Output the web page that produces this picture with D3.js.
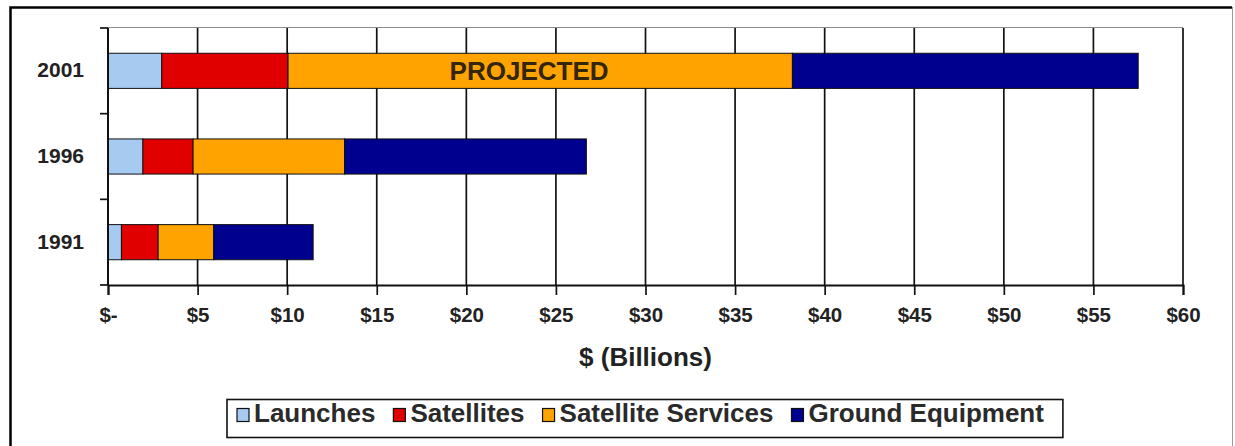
<!DOCTYPE html>
<html>
<head>
<meta charset="utf-8">
<script src="https://cdn.jsdelivr.net/npm/d3@7"></script>
<style>
  html, body { margin: 0; padding: 0; background: #fff; }
  svg { display: block; font-family: "Liberation Sans", Arial, sans-serif; }
</style>
</head>
<body>
<svg id="chart" width="1235" height="446"></svg>
<script>
// Space industry revenues by segment, $ billions
const years = ["2001", "1996", "1991"];
const seriesNames = ["Launches", "Satellites", "Satellite Services", "Ground Equipment"];
const launches = [3.0, 1.95, 0.75];
const satellites = [7.05, 2.8, 2.05];
const satelliteServices = [28.15, 8.45, 3.1];
const groundEquipment = [19.3, 13.5, 5.55];
const xTicks = [0, 5, 10, 15, 20, 25, 30, 35, 40, 45, 50, 55, 60];
const colors = ["#a6caf0", "#e00000", "#ffa300", "#00008f"];
const projectedNote = { year: "2001", at: 23.5, text: "PROJECTED" };

const svg = d3.select("#chart");

// Outer frame
svg.append("rect")
  .attr("x", 10.5).attr("y", 7.5).attr("width", 1222).attr("height", 470)
  .attr("fill", "#fff").attr("stroke", "#9a9a9a").attr("stroke-width", 1);
svg.append("path")
  .attr("d", "M10.5,480 V7.5 H1232")
  .attr("fill", "none").attr("stroke", "#000").attr("stroke-width", 2.5);

const plot = { left: 108, right: 1183, top: 28, bottom: 285 };

const x = d3.scaleLinear().domain([0, 60]).range([plot.left, plot.right]);
const y = d3.scaleBand().domain(years).range([plot.top, plot.bottom])
  .paddingInner(0.59).paddingOuter(0.295);

// Stack the four series per year
const rows = years.map((yr, i) => ({
  year: yr,
  "Launches": launches[i],
  "Satellites": satellites[i],
  "Satellite Services": satelliteServices[i],
  "Ground Equipment": groundEquipment[i]
}));
const stacked = d3.stack().keys(seriesNames)(rows);

// Plot area top edge
svg.append("line")
  .attr("x1", plot.left).attr("x2", plot.right)
  .attr("y1", plot.top - 0.5).attr("y2", plot.top - 0.5)
  .attr("stroke", "#8c8c8c").attr("stroke-width", 1.2);

// Vertical gridlines
svg.append("g").selectAll("line")
  .data(xTicks.filter(d => d > 0))
  .join("line")
  .attr("x1", d => x(d)).attr("x2", d => x(d))
  .attr("y1", plot.top).attr("y2", plot.bottom)
  .attr("stroke", "#111").attr("stroke-width", 1.7);

// Bars
svg.append("g").selectAll("g")
  .data(stacked)
  .join("g")
  .attr("fill", (d, i) => colors[i])
  .selectAll("rect")
  .data(d => d)
  .join("rect")
  .attr("x", d => x(d[0]))
  .attr("width", d => x(d[1]) - x(d[0]))
  .attr("y", d => y(d.data.year))
  .attr("height", y.bandwidth())
  .attr("stroke", "#111")
  .attr("stroke-width", 1);

// Annotation on the 2001 bar
svg.append("text")
  .attr("x", x(projectedNote.at))
  .attr("y", y(projectedNote.year) + y.bandwidth() / 2 + 9)
  .attr("text-anchor", "middle")
  .attr("font-size", 26).attr("font-weight", "bold")
  .attr("fill", "#35260a")
  .text(projectedNote.text);

// X axis
const xAxis = svg.append("g")
  .attr("transform", `translate(0,${plot.bottom})`)
  .call(d3.axisBottom(x).tickValues(xTicks).tickSize(10).tickPadding(12)
    .tickFormat(d => d === 0 ? "$-" : "$" + d));
xAxis.select(".domain").attr("stroke", "#111").attr("stroke-width", 2);
xAxis.selectAll(".tick line").attr("stroke", "#111").attr("stroke-width", 1.7);
xAxis.selectAll(".tick text")
  .attr("font-size", 20.5).attr("font-weight", "bold")
  .attr("fill", "#222")
  .attr("font-family", "'Liberation Sans', Arial, sans-serif");

// Y axis with ticks between categories
const yAxis = svg.append("g");
yAxis.append("line")
  .attr("x1", plot.left).attr("x2", plot.left)
  .attr("y1", plot.top).attr("y2", plot.bottom)
  .attr("stroke", "#111").attr("stroke-width", 2);
const boundaries = d3.range(years.length + 1).map(i => plot.top + i * y.step());
yAxis.selectAll(".btick")
  .data(boundaries)
  .join("line")
  .attr("class", "btick")
  .attr("x1", plot.left - 8).attr("x2", plot.left)
  .attr("y1", d => d).attr("y2", d => d)
  .attr("stroke", "#111").attr("stroke-width", 1.7);
yAxis.selectAll(".ylab")
  .data(years)
  .join("text")
  .attr("class", "ylab")
  .attr("x", 84)
  .attr("y", d => y(d) + y.bandwidth() / 2 - 1)
  .attr("dy", "0.35em")
  .attr("text-anchor", "end")
  .attr("font-size", 21).attr("font-weight", "bold")
  .attr("fill", "#222")
  .text(d => d);

// Axis title
svg.append("text")
  .attr("x", (plot.left + plot.right) / 2)
  .attr("y", 366)
  .attr("text-anchor", "middle")
  .attr("font-size", 26).attr("font-weight", "bold")
  .attr("fill", "#222")
  .text("$ (Billions)");

// Legend
const legend = svg.append("g");
const legendBox = legend.append("rect")
  .attr("y", 399.5).attr("height", 38)
  .attr("fill", "#fff").attr("stroke", "#111").attr("stroke-width", 1.6);
let cx = 237;
let lastEnd = cx;
seriesNames.forEach((name, i) => {
  legend.append("rect")
    .attr("x", cx).attr("y", 408.5).attr("width", 12).attr("height", 13)
    .attr("fill", colors[i]).attr("stroke", "#111").attr("stroke-width", 1.2);
  const t = legend.append("text")
    .attr("x", cx + 17).attr("y", 422)
    .attr("font-size", 26).attr("font-weight", "bold")
    .attr("fill", "#2a2a2a")
    .text(name);
  lastEnd = cx + 17 + t.node().getComputedTextLength();
  cx = lastEnd + 18;
});
legendBox.attr("x", 227).attr("width", lastEnd + 19 - 227);
</script>
</body>
</html>
